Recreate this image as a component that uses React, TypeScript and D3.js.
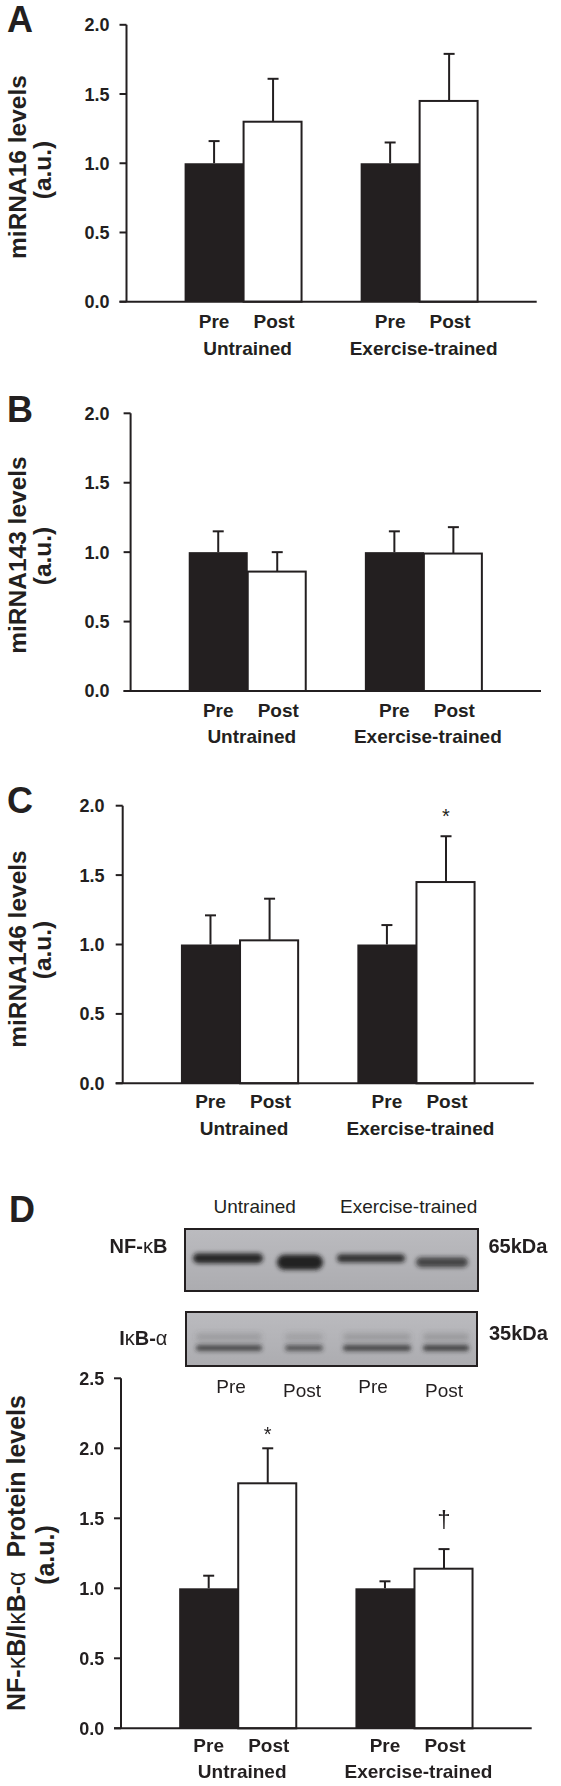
import React from 'react';
import * as d3 from 'd3';

// ---------- data ----------
const groups = ['Untrained', 'Exercise-trained'];
const phases = ['Pre', 'Post'];

const mir16Means = [1.0, 1.3, 1.0, 1.45];
const mir16Errors = [0.16, 0.31, 0.15, 0.34];
const mir143Means = [1.0, 0.86, 1.0, 0.99];
const mir143Errors = [0.15, 0.14, 0.15, 0.19];
const mir146Means = [1.0, 1.03, 1.0, 1.45];
const mir146Errors = [0.21, 0.3, 0.14, 0.33];
const nfkbMeans = [1.0, 1.75, 1.0, 1.14];
const nfkbErrors = [0.09, 0.25, 0.05, 0.14];

const mir146Marks = ['', '', '', '*'];
const nfkbMarks = ['', '*', '', '\u2020'];
const noMarks = ['', '', '', ''];

const ticksTo2 = [0, 0.5, 1.0, 1.5, 2.0];
const ticksTo25 = [0, 0.5, 1.0, 1.5, 2.0, 2.5];

const blotLanes = ['Pre', 'Post', 'Pre', 'Post'];
const blotHeader = ['Untrained', 'Exercise-trained'];
const nfkbBandStrength = [0.9, 0.97, 0.85, 0.72];
const ikbBandStrength = [0.75, 0.65, 0.78, 0.8];

// ---------- styles / layout ----------
const INK = '#231f20';
const FONT = '"Liberation Sans", Arial, Helvetica, sans-serif';

type Layout = {
  letter: string;
  letterY: number;
  axisX: number;
  xEnd: number;
  y0: number;
  yTop: number;
  yMax: number;
  ticks: number[];
  tickRight: number;
  labelCy: number;
  auCy: number;
  labelX: number;
  auX: number;
  labelSize: number;
  phaseDy: number;
  groupDy: number;
  markGap: { [k: string]: number };
};

function Panel({
  layout,
  means,
  errors,
  marks,
  title,
}: {
  layout: Layout;
  means: number[];
  errors: number[];
  marks: string[];
  title: React.ReactNode;
}) {
  const y = d3.scaleLinear().domain([0, layout.yMax]).range([layout.y0, layout.yTop]);
  const gx = d3
    .scaleBand<string>()
    .domain(groups)
    .range([layout.axisX, layout.xEnd])
    .paddingInner(0.33)
    .paddingOuter(0.33);
  const px = d3.scaleBand<string>().domain(phases).range([0, gx.bandwidth()]).padding(0);
  const bars = groups.flatMap((g, gi) =>
    phases.map((p, pi) => {
      const i = gi * 2 + pi;
      return { g, p, i, mean: means[i], err: errors[i], mark: marks[i] };
    })
  );
  const tickLen = 7;
  return (
    <g>
      {layout.letter && (
        <text x={7} y={layout.letterY} fontSize={36} fontWeight="bold" fill={INK} fontFamily={FONT}>
          {layout.letter}
        </text>
      )}
      <text
        transform={`translate(${layout.labelX},${layout.labelCy}) rotate(-90)`}
        textAnchor="middle"
        fontSize={layout.labelSize}
        fontWeight="bold"
        fill={INK}
        fontFamily={FONT}
      >
        {title}
      </text>
      <text
        transform={`translate(${layout.auX},${layout.auCy}) rotate(-90)`}
        textAnchor="middle"
        fontSize={layout.labelSize}
        fontWeight="bold"
        fill={INK}
        fontFamily={FONT}
      >
        (a.u.)
      </text>
      {bars.map((b) => {
        const x0 = (gx(b.g) as number) + (px(b.p) as number);
        const w = px.bandwidth();
        const top = y(b.mean);
        const cx = x0 + w / 2;
        const et = y(b.mean + b.err);
        return (
          <g key={b.i}>
            <line x1={cx} x2={cx} y1={top} y2={et} stroke={INK} strokeWidth={2} />
            <line x1={cx - 5.5} x2={cx + 5.5} y1={et} y2={et} stroke={INK} strokeWidth={2} />
            {b.p === 'Pre' ? (
              <rect x={x0} y={top} width={w} height={layout.y0 - top} fill={INK} />
            ) : (
              <rect
                x={x0}
                y={top}
                width={w - 1}
                height={layout.y0 - top}
                fill="#fff"
                stroke={INK}
                strokeWidth={2}
              />
            )}
            {b.mark && (
              <text
                x={cx}
                y={et - (layout.markGap[b.mark] ?? 10)}
                textAnchor="middle"
                fontSize={b.mark === '*' ? 20 : 24}
                fill={INK}
                fontFamily={FONT}
              >
                {b.mark}
              </text>
            )}
            <text
              x={cx + (b.p === 'Post' ? 1 : 0)}
              y={layout.y0 + layout.phaseDy}
              textAnchor="middle"
              fontSize={19}
              fontWeight="bold"
              fill={INK}
              fontFamily={FONT}
            >
              {b.p}
            </text>
          </g>
        );
      })}
      {groups.map((g) => (
        <text
          key={g}
          x={(gx(g) as number) + gx.bandwidth() / 2 + 4}
          y={layout.y0 + layout.groupDy}
          textAnchor="middle"
          fontSize={19}
          fontWeight="bold"
          fill={INK}
          fontFamily={FONT}
        >
          {g}
        </text>
      ))}
      <line x1={layout.axisX} x2={layout.axisX} y1={y(layout.yMax)} y2={layout.y0} stroke={INK} strokeWidth={2} />
      <line x1={layout.axisX - tickLen} x2={layout.xEnd} y1={layout.y0} y2={layout.y0} stroke={INK} strokeWidth={2} />
      {layout.ticks.map((t) => (
        <g key={t}>
          <line x1={layout.axisX - tickLen} x2={layout.axisX} y1={y(t)} y2={y(t)} stroke={INK} strokeWidth={2} />
          <text
            x={layout.tickRight}
            y={y(t)}
            dy="0.36em"
            textAnchor="end"
            fontSize={18}
            fontWeight="bold"
            fill={INK}
            fontFamily={FONT}
          >
            {d3.format('.1f')(t)}
          </text>
        </g>
      ))}
    </g>
  );
}

const layoutA: Layout = {
  letter: 'A', letterY: 32, axisX: 126.5, xEnd: 536.7, y0: 301.7, yTop: 24.8, yMax: 2,
  ticks: ticksTo2, tickRight: 109.5, labelCy: 167, auCy: 170, labelX: 25.5, auX: 51,
  labelSize: 24.5, phaseDy: 26.6, groupDy: 53.3, markGap: {},
};
const layoutB: Layout = {
  letter: 'B', letterY: 421.7, axisX: 130.6, xEnd: 541, y0: 691, yTop: 413.3, yMax: 2,
  ticks: ticksTo2, tickRight: 109.5, labelCy: 555, auCy: 556, labelX: 25.5, auX: 51,
  labelSize: 24.5, phaseDy: 25.7, groupDy: 51.7, markGap: {},
};
const layoutC: Layout = {
  letter: 'C', letterY: 813.3, axisX: 122.7, xEnd: 533.8, y0: 1083.3, yTop: 805.7, yMax: 2,
  ticks: ticksTo2, tickRight: 104.5, labelCy: 949, auCy: 950, labelX: 25.5, auX: 51,
  labelSize: 24.5, phaseDy: 25, groupDy: 51.7, markGap: { '*': 13 },
};
const layoutD: Layout = {
  letter: '', letterY: 0, axisX: 121, xEnd: 531.7, y0: 1728.3, yTop: 1378.3, yMax: 2.5,
  ticks: ticksTo25, tickRight: 104.3, labelCy: 1553, auCy: 1555, labelX: 25, auX: 54,
  labelSize: 25, phaseDy: 23.4, groupDy: 49.4, markGap: { '*': 7, '\u2020': 22 },
};

function Blot() {
  const lane = d3.scalePoint<number>().domain([0, 1, 2, 3]).range([229, 442]);
  const box1 = { x: 185, y: 1229, w: 293, h: 62 };
  const box2 = { x: 186, y: 1312, w: 291, h: 54 };
  const nfW = [70, 46, 68, 52];
  const nfH = [10, 15, 8, 10];
  const nfDy = [0, 4, 0, 4];
  const ikW = [66, 38, 68, 46];
  const ikOff = [0, 4, 6, 4];
  return (
    <g>
      <defs>
        <filter id="blur" x="-20%" y="-100%" width="140%" height="300%">
          <feGaussianBlur stdDeviation="2" />
        </filter>
        <filter id="blur2" x="-20%" y="-100%" width="140%" height="300%">
          <feGaussianBlur stdDeviation="2.6" />
        </filter>
        <linearGradient id="blotbg" x1="0" x2="0" y1="0" y2="1">
          <stop offset="0" stopColor="#bbbbbf" />
          <stop offset="1" stopColor="#acacb0" />
        </linearGradient>
      </defs>
      <text x={9} y={1221.7} fontSize={36} fontWeight="bold" fill={INK} fontFamily={FONT}>
        D
      </text>
      <text x={254.7} y={1213.3} textAnchor="middle" fontSize={19} fill={INK} fontFamily={FONT}>
        {blotHeader[0]}
      </text>
      <text x={408.6} y={1213.3} textAnchor="middle" fontSize={19} fill={INK} fontFamily={FONT}>
        {blotHeader[1]}
      </text>
      <rect x={box1.x} y={box1.y} width={box1.w} height={box1.h} fill="url(#blotbg)" stroke={INK} strokeWidth={2} />
      <rect x={box2.x} y={box2.y} width={box2.w} height={box2.h} fill="url(#blotbg)" stroke={INK} strokeWidth={2} />
      <g filter="url(#blur)">
        {nfkbBandStrength.map((s, i) => (
          <rect
            key={'n' + i}
            x={(lane(i) as number) - nfW[i] / 2 + (i === 0 ? -1 : 0)}
            y={1258.3 + nfDy[i] - nfH[i] / 2}
            width={nfW[i]}
            height={nfH[i]}
            rx={nfH[i] / 2}
            fill="#1a1a1a"
            opacity={s}
          />
        ))}
        {ikbBandStrength.map((s, i) => (
          <rect
            key={'k' + i}
            x={(lane(i) as number) - ikW[i] / 2 + ikOff[i]}
            y={1345}
            width={ikW[i]}
            height={6}
            rx={3}
            fill="#262626"
            opacity={s}
          />
        ))}
      </g>
      <g filter="url(#blur2)">
        {ikbBandStrength.map((s, i) => (
          <rect
            key={'u' + i}
            x={(lane(i) as number) - ikW[i] / 2 + ikOff[i]}
            y={1333}
            width={ikW[i]}
            height={8}
            rx={4}
            fill="#555"
            opacity={s * 0.3}
          />
        ))}
      </g>
      <text x={167.4} y={1253.3} textAnchor="end" fontSize={20} fontWeight="bold" fill={INK} fontFamily={FONT}>
        NF-<tspan fontWeight="normal">κ</tspan>B
      </text>
      <text x={167.4} y={1345} textAnchor="end" fontSize={20} fontWeight="bold" fill={INK} fontFamily={FONT}>
        I<tspan fontWeight="normal">κ</tspan>B-<tspan fontWeight="normal">α</tspan>
      </text>
      <text x={488.4} y={1253.3} fontSize={20} fontWeight="bold" fill={INK} fontFamily={FONT}>
        65kDa
      </text>
      <text x={489} y={1340} fontSize={20} fontWeight="bold" fill={INK} fontFamily={FONT}>
        35kDa
      </text>
      {blotLanes.map((l, i) => (
        <text
          key={'l' + i}
          x={(lane(i) as number) + 2}
          y={l === 'Pre' ? 1393.3 : 1396.5}
          textAnchor="middle"
          fontSize={19}
          fill={INK}
          fontFamily={FONT}
        >
          {l}
        </text>
      ))}
    </g>
  );
}

export default function App() {
  return (
    <svg
      width={561}
      height={1786}
      viewBox="0 0 561 1786"
      style={{ position: 'absolute', left: 0, top: 0, background: '#fff' }}
    >
      <rect width={561} height={1786} fill="#fff" />
      <Panel layout={layoutA} means={mir16Means} errors={mir16Errors} marks={noMarks} title="miRNA16 levels" />
      <Panel layout={layoutB} means={mir143Means} errors={mir143Errors} marks={noMarks} title="miRNA143 levels" />
      <Panel layout={layoutC} means={mir146Means} errors={mir146Errors} marks={mir146Marks} title="miRNA146 levels" />
      <Blot />
      <Panel
        layout={layoutD}
        means={nfkbMeans}
        errors={nfkbErrors}
        marks={nfkbMarks}
        title={
          <>
            NF-<tspan fontWeight="normal">κ</tspan>B/I<tspan fontWeight="normal">κ</tspan>B-
            <tspan fontWeight="normal">α</tspan>
            {'\u00A0 Protein levels'}
          </>
        }
      />
    </svg>
  );
}
